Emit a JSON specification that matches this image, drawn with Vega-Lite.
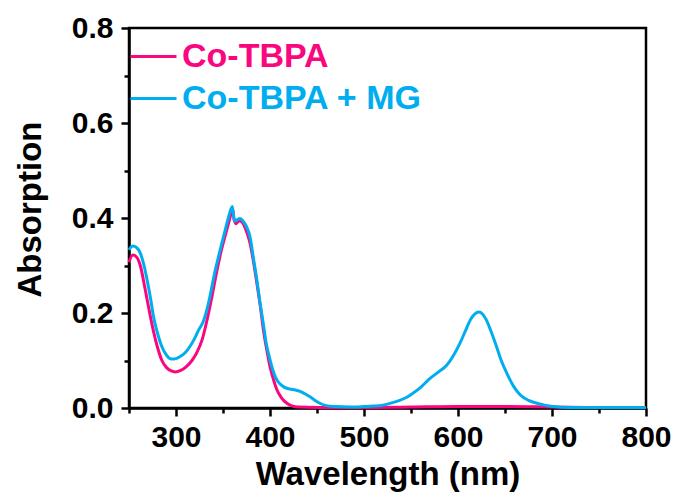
{
  "$schema": "https://vega.github.io/schema/vega-lite/v6.json",
  "width": 517,
  "height": 380,
  "autosize": "none",
  "padding": {"left": 129, "top": 28, "right": 32, "bottom": 92},
  "background": "white",
  "config": {
    "view": {"stroke": "black", "strokeWidth": 2.5},
    "font": "Liberation Sans",
    "axis": {
      "domainColor": "black", "domainWidth": 2.5, "tickColor": "black", "tickWidth": 2.5, "labelFlush": false, "labelOverlap": false,
      "grid": false, "labelFont": "Liberation Sans", "labelFontWeight": "bold", "labelColor": "black",
      "titleFont": "Liberation Sans", "titleFontWeight": "bold", "titleColor": "black"
    }
  },
  "data": {"values": [
    {"wl":250,"abs":0.307,"s":"Co-TBPA"},{"wl":254,"abs":0.322,"s":"Co-TBPA"},{"wl":258,"abs":0.318,"s":"Co-TBPA"},{"wl":262,"abs":0.300,"s":"Co-TBPA"},{"wl":267,"abs":0.252,"s":"Co-TBPA"},{"wl":272,"abs":0.200,"s":"Co-TBPA"},{"wl":276,"abs":0.162,"s":"Co-TBPA"},{"wl":280,"abs":0.130,"s":"Co-TBPA"},{"wl":285,"abs":0.100,"s":"Co-TBPA"},{"wl":290,"abs":0.085,"s":"Co-TBPA"},{"wl":295,"abs":0.078,"s":"Co-TBPA"},{"wl":299,"abs":0.076,"s":"Co-TBPA"},{"wl":305,"abs":0.079,"s":"Co-TBPA"},{"wl":311,"abs":0.087,"s":"Co-TBPA"},{"wl":317,"abs":0.100,"s":"Co-TBPA"},{"wl":322,"abs":0.116,"s":"Co-TBPA"},{"wl":328,"abs":0.145,"s":"Co-TBPA"},{"wl":333,"abs":0.185,"s":"Co-TBPA"},{"wl":338,"abs":0.232,"s":"Co-TBPA"},{"wl":343,"abs":0.284,"s":"Co-TBPA"},{"wl":348,"abs":0.330,"s":"Co-TBPA"},{"wl":354,"abs":0.375,"s":"Co-TBPA"},{"wl":358,"abs":0.405,"s":"Co-TBPA"},{"wl":360,"abs":0.420,"s":"Co-TBPA"},{"wl":362,"abs":0.395,"s":"Co-TBPA"},{"wl":364,"abs":0.388,"s":"Co-TBPA"},{"wl":367,"abs":0.394,"s":"Co-TBPA"},{"wl":370,"abs":0.392,"s":"Co-TBPA"},{"wl":373,"abs":0.382,"s":"Co-TBPA"},{"wl":376,"abs":0.366,"s":"Co-TBPA"},{"wl":379,"abs":0.345,"s":"Co-TBPA"},{"wl":382,"abs":0.313,"s":"Co-TBPA"},{"wl":386,"abs":0.263,"s":"Co-TBPA"},{"wl":390,"abs":0.210,"s":"Co-TBPA"},{"wl":393,"abs":0.164,"s":"Co-TBPA"},{"wl":397,"abs":0.118,"s":"Co-TBPA"},{"wl":400,"abs":0.087,"s":"Co-TBPA"},{"wl":404,"abs":0.058,"s":"Co-TBPA"},{"wl":407,"abs":0.040,"s":"Co-TBPA"},{"wl":412,"abs":0.022,"s":"Co-TBPA"},{"wl":418,"abs":0.010,"s":"Co-TBPA"},{"wl":424,"abs":0.004,"s":"Co-TBPA"},{"wl":430,"abs":0.002,"s":"Co-TBPA"},{"wl":450,"abs":0.001,"s":"Co-TBPA"},{"wl":500,"abs":0.001,"s":"Co-TBPA"},{"wl":550,"abs":0.002,"s":"Co-TBPA"},{"wl":600,"abs":0.003,"s":"Co-TBPA"},{"wl":650,"abs":0.003,"s":"Co-TBPA"},{"wl":700,"abs":0.002,"s":"Co-TBPA"},{"wl":750,"abs":0.001,"s":"Co-TBPA"},{"wl":800,"abs":0.001,"s":"Co-TBPA"},
    {"wl":250,"abs":0.333,"s":"Co-TBPA + MG"},{"wl":254,"abs":0.341,"s":"Co-TBPA + MG"},{"wl":258,"abs":0.338,"s":"Co-TBPA + MG"},{"wl":262,"abs":0.326,"s":"Co-TBPA + MG"},{"wl":266,"abs":0.300,"s":"Co-TBPA + MG"},{"wl":269,"abs":0.272,"s":"Co-TBPA + MG"},{"wl":273,"abs":0.230,"s":"Co-TBPA + MG"},{"wl":276,"abs":0.193,"s":"Co-TBPA + MG"},{"wl":280,"abs":0.160,"s":"Co-TBPA + MG"},{"wl":285,"abs":0.129,"s":"Co-TBPA + MG"},{"wl":290,"abs":0.111,"s":"Co-TBPA + MG"},{"wl":295,"abs":0.103,"s":"Co-TBPA + MG"},{"wl":300,"abs":0.104,"s":"Co-TBPA + MG"},{"wl":304,"abs":0.108,"s":"Co-TBPA + MG"},{"wl":310,"abs":0.117,"s":"Co-TBPA + MG"},{"wl":315,"abs":0.130,"s":"Co-TBPA + MG"},{"wl":320,"abs":0.147,"s":"Co-TBPA + MG"},{"wl":324,"abs":0.164,"s":"Co-TBPA + MG"},{"wl":329,"abs":0.182,"s":"Co-TBPA + MG"},{"wl":333,"abs":0.208,"s":"Co-TBPA + MG"},{"wl":336,"abs":0.234,"s":"Co-TBPA + MG"},{"wl":341,"abs":0.283,"s":"Co-TBPA + MG"},{"wl":347,"abs":0.333,"s":"Co-TBPA + MG"},{"wl":352,"abs":0.372,"s":"Co-TBPA + MG"},{"wl":356,"abs":0.403,"s":"Co-TBPA + MG"},{"wl":360,"abs":0.424,"s":"Co-TBPA + MG"},{"wl":362,"abs":0.393,"s":"Co-TBPA + MG"},{"wl":365,"abs":0.396,"s":"Co-TBPA + MG"},{"wl":368,"abs":0.399,"s":"Co-TBPA + MG"},{"wl":372,"abs":0.392,"s":"Co-TBPA + MG"},{"wl":375,"abs":0.382,"s":"Co-TBPA + MG"},{"wl":379,"abs":0.358,"s":"Co-TBPA + MG"},{"wl":382,"abs":0.320,"s":"Co-TBPA + MG"},{"wl":386,"abs":0.270,"s":"Co-TBPA + MG"},{"wl":389,"abs":0.227,"s":"Co-TBPA + MG"},{"wl":393,"abs":0.176,"s":"Co-TBPA + MG"},{"wl":396,"abs":0.136,"s":"Co-TBPA + MG"},{"wl":400,"abs":0.102,"s":"Co-TBPA + MG"},{"wl":403,"abs":0.080,"s":"Co-TBPA + MG"},{"wl":406,"abs":0.064,"s":"Co-TBPA + MG"},{"wl":410,"abs":0.052,"s":"Co-TBPA + MG"},{"wl":415,"abs":0.044,"s":"Co-TBPA + MG"},{"wl":421,"abs":0.040,"s":"Co-TBPA + MG"},{"wl":427,"abs":0.038,"s":"Co-TBPA + MG"},{"wl":432,"abs":0.035,"s":"Co-TBPA + MG"},{"wl":437,"abs":0.030,"s":"Co-TBPA + MG"},{"wl":443,"abs":0.023,"s":"Co-TBPA + MG"},{"wl":448,"abs":0.016,"s":"Co-TBPA + MG"},{"wl":453,"abs":0.010,"s":"Co-TBPA + MG"},{"wl":460,"abs":0.005,"s":"Co-TBPA + MG"},{"wl":470,"abs":0.003,"s":"Co-TBPA + MG"},{"wl":485,"abs":0.002,"s":"Co-TBPA + MG"},{"wl":500,"abs":0.003,"s":"Co-TBPA + MG"},{"wl":510,"abs":0.004,"s":"Co-TBPA + MG"},{"wl":520,"abs":0.006,"s":"Co-TBPA + MG"},{"wl":530,"abs":0.011,"s":"Co-TBPA + MG"},{"wl":538,"abs":0.016,"s":"Co-TBPA + MG"},{"wl":545,"abs":0.022,"s":"Co-TBPA + MG"},{"wl":552,"abs":0.031,"s":"Co-TBPA + MG"},{"wl":560,"abs":0.043,"s":"Co-TBPA + MG"},{"wl":570,"abs":0.062,"s":"Co-TBPA + MG"},{"wl":580,"abs":0.077,"s":"Co-TBPA + MG"},{"wl":588,"abs":0.090,"s":"Co-TBPA + MG"},{"wl":595,"abs":0.110,"s":"Co-TBPA + MG"},{"wl":602,"abs":0.136,"s":"Co-TBPA + MG"},{"wl":608,"abs":0.163,"s":"Co-TBPA + MG"},{"wl":613,"abs":0.185,"s":"Co-TBPA + MG"},{"wl":618,"abs":0.198,"s":"Co-TBPA + MG"},{"wl":622,"abs":0.202,"s":"Co-TBPA + MG"},{"wl":626,"abs":0.198,"s":"Co-TBPA + MG"},{"wl":630,"abs":0.186,"s":"Co-TBPA + MG"},{"wl":635,"abs":0.162,"s":"Co-TBPA + MG"},{"wl":641,"abs":0.129,"s":"Co-TBPA + MG"},{"wl":646,"abs":0.100,"s":"Co-TBPA + MG"},{"wl":652,"abs":0.073,"s":"Co-TBPA + MG"},{"wl":659,"abs":0.046,"s":"Co-TBPA + MG"},{"wl":666,"abs":0.028,"s":"Co-TBPA + MG"},{"wl":675,"abs":0.016,"s":"Co-TBPA + MG"},{"wl":684,"abs":0.010,"s":"Co-TBPA + MG"},{"wl":692,"abs":0.006,"s":"Co-TBPA + MG"},{"wl":701,"abs":0.003,"s":"Co-TBPA + MG"},{"wl":720,"abs":0.001,"s":"Co-TBPA + MG"},{"wl":750,"abs":0.001,"s":"Co-TBPA + MG"},{"wl":800,"abs":0.001,"s":"Co-TBPA + MG"}
  ]},
  "layer": [
    {
      "mark": {"type": "line", "opacity": 0},
      "encoding": {
        "x": {"field": "wl", "type": "quantitative", "scale": {"domain": [250, 800], "nice": false, "zero": false},
          "axis": {"orient": "bottom", "values": [250, 350, 450, 550, 650, 750], "labels": false, "tickSize": 5, "domain": false, "title": null}},
        "y": {"field": "abs", "type": "quantitative", "scale": {"domain": [0, 0.8], "nice": false},
          "axis": {"orient": "left", "values": [0.1, 0.3, 0.5, 0.7], "labels": false, "tickSize": 5, "domain": false, "title": null}},
        "detail": {"field": "s"}
      }
    },
    {
      "mark": {"type": "line", "strokeWidth": 3, "interpolate": "monotone"},
      "encoding": {
        "x": {"field": "wl", "type": "quantitative", "scale": {"domain": [250, 800], "nice": false, "zero": false},
          "axis": {"orient": "bottom", "values": [300, 400, 500, 600, 700, 800], "tickSize": 8, "labelFontSize": 30, "labelPadding": 6,
            "title": "Wavelength (nm)", "titleFontSize": 33, "titlePadding": 6}},
        "y": {"field": "abs", "type": "quantitative", "scale": {"domain": [0, 0.8], "nice": false},
          "axis": {"orient": "left", "values": [0, 0.2, 0.4, 0.6, 0.8], "format": ".1f", "tickSize": 8, "labelFontSize": 30, "labelPadding": 8,
            "title": "Absorption", "titleFontSize": 33, "titlePadding": 24, "titleY": 181}},
        "color": {"field": "s", "type": "nominal",
          "scale": {"domain": ["Co-TBPA", "Co-TBPA + MG"], "range": ["#FA067F", "#00AEEF"]},
          "legend": {"title": null, "orient": "none", "legendX": 0, "legendY": 4, "symbolType": "stroke", "symbolSize": 2116, "symbolStrokeWidth": 3,
            "labelFontSize": 34, "labelFont": "Liberation Sans", "labelFontWeight": "bold", "labelOffset": 4, "labelLimit": 0, "rowPadding": -3,
            "encode": {"labels": {"update": {"fill": {"scale": "color", "field": "value"}}}}}}
      }
    }
  ],
  "resolve": {"axis": {"x": "independent", "y": "independent"}}
}
